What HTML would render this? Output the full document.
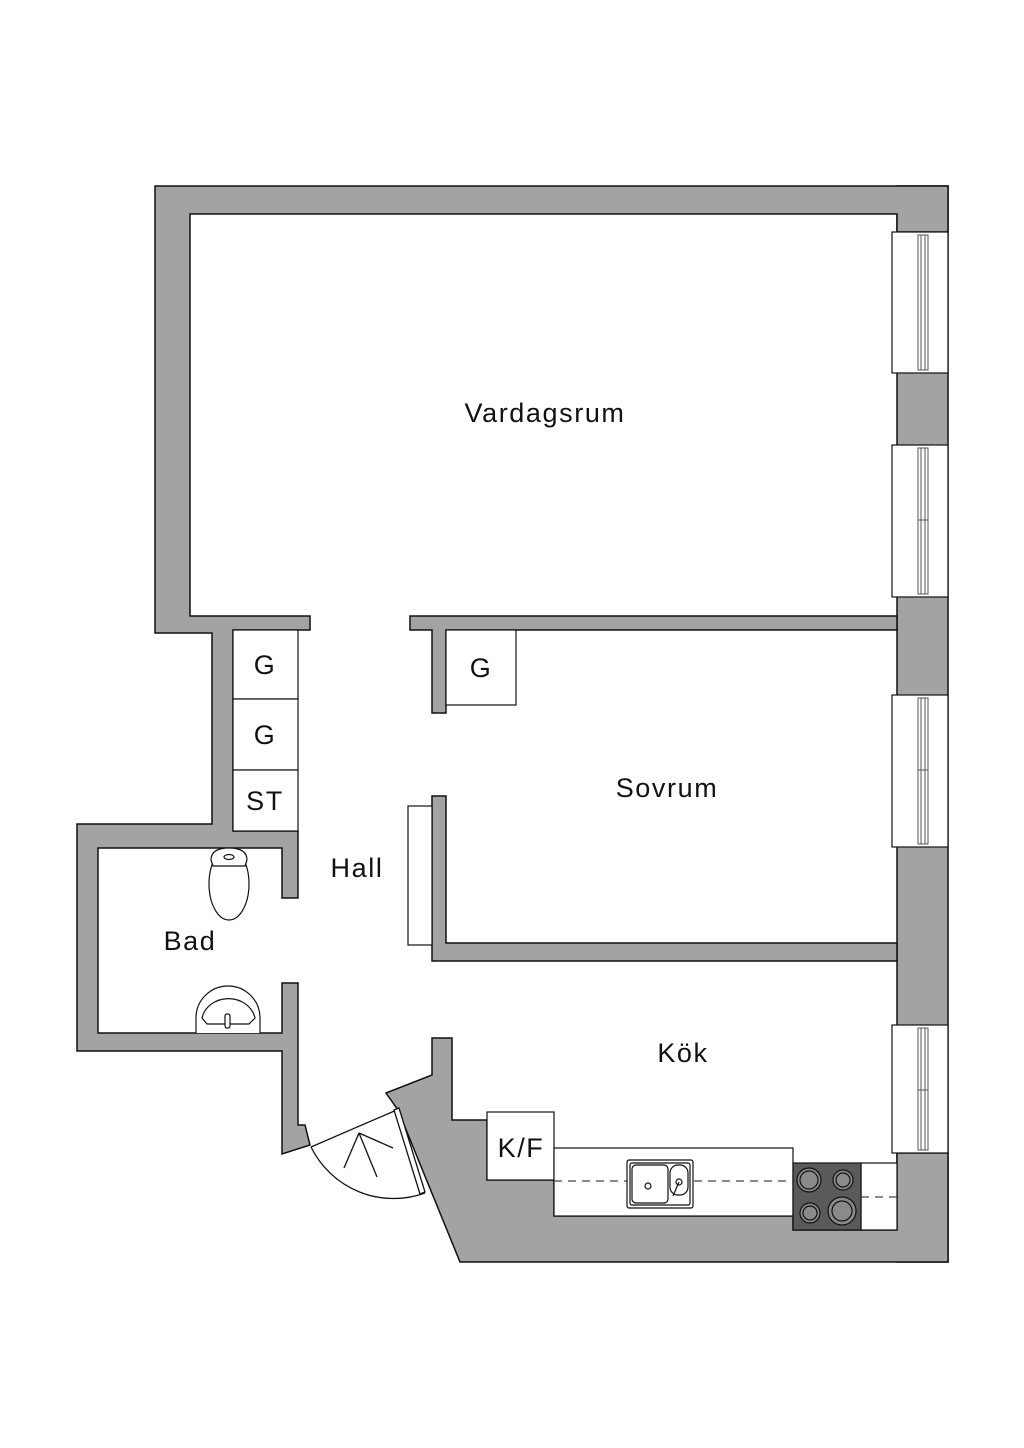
<!DOCTYPE html>
<html><head><meta charset="utf-8"><style>
html,body{margin:0;padding:0;background:#fff;}
svg{display:block;}
text{font-family:"Liberation Sans",sans-serif;fill:#111;}
</style></head><body>
<svg width="1024" height="1448" viewBox="0 0 1024 1448" xmlns="http://www.w3.org/2000/svg">
<g fill="#a3a3a3" stroke="#111" stroke-width="1.5" stroke-linejoin="miter">
<rect x="897" y="186" width="51" height="1076"/>
<path d="M155,186 L948,186 L948,232 L897,232 L897,214 L190,214 L190,616 L310,616 L310,630 L233,630 L233,831 L298,831 L298,898 L282,898 L282,848 L98,848 L98,1033 L282,1033 L282,983 L298,983 L298,1125 L305,1125 L310,1145 L282,1154 L282,1051 L77,1051 L77,824 L212,824 L212,633 L155,633 Z"/>
<path d="M410,616 L897,616 L897,630 L446,630 L446,713 L432,713 L432,630 L410,630 Z"/>
<path d="M432,796 L446,796 L446,943 L897,943 L897,961 L432,961 Z"/>
<path d="M432,1038 L452,1038 L452,1120 L487,1120 L487,1180 L554,1180 L554,1216 L793,1216 L793,1230 L897,1230 L897,1153 L948,1153 L948,1262 L460,1262 L398,1110 L386,1093 L432,1075 Z"/>
</g>
<g fill="#a3a3a3" stroke="none">
<rect x="898" y="187" width="49" height="26"/>
<rect x="898" y="1154" width="49" height="107"/>
</g>
<g stroke="#111" stroke-width="1.2" fill="#fff">
<rect x="892" y="232" width="56" height="141"/>
<rect x="892" y="445" width="56" height="152"/>
<rect x="892" y="695" width="56" height="152"/>
<rect x="892" y="1025" width="56" height="128"/>
</g>
<g stroke="#555" stroke-width="1" fill="none">
<rect x="918" y="235" width="10" height="135"/><line x1="921" y1="235" x2="921" y2="370"/><line x1="925" y1="235" x2="925" y2="370"/>
<rect x="918" y="448" width="10" height="146"/><line x1="921" y1="448" x2="921" y2="594"/><line x1="925" y1="448" x2="925" y2="594"/><line x1="918" y1="520" x2="928" y2="520"/>
<rect x="918" y="698" width="10" height="146"/><line x1="921" y1="698" x2="921" y2="844"/><line x1="925" y1="698" x2="925" y2="844"/><line x1="918" y1="770" x2="928" y2="770"/>
<rect x="918" y="1028" width="10" height="122"/><line x1="921" y1="1028" x2="921" y2="1150"/><line x1="925" y1="1028" x2="925" y2="1150"/><line x1="918" y1="1090" x2="928" y2="1090"/>
</g>
<g stroke="#111" stroke-width="1.2" fill="#fff">
<rect x="233" y="630" width="65" height="69"/>
<rect x="233" y="699" width="65" height="71"/>
<rect x="233" y="770" width="65" height="61"/>
<rect x="446" y="630" width="70" height="75"/>
<rect x="408" y="806" width="24" height="139"/>
</g>
<g stroke="#111" stroke-width="1.2" fill="#fff">
<ellipse cx="229" cy="884" rx="20" ry="36"/>
<path d="M211,860 Q211,848 229,848 Q247,848 247,860 L245,866 L213,866 Z"/>
<ellipse cx="229" cy="857" rx="5" ry="2.5"/>
</g>
<g stroke="#111" stroke-width="1.2" fill="#fff">
<path d="M196,1033 L196,1018 A32,32 0 0 1 260,1018 L260,1033"/>
<path d="M202,1018 A27,24 0 0 1 255,1018 L249,1024 L207,1024 Z" fill="none"/>
<rect x="225" y="1014" width="5" height="14" rx="2"/>
</g>
<g stroke="#111" stroke-width="1.3" fill="none">
<line x1="399" y1="1109" x2="311" y2="1147"/>
<path d="M311,1147 A92,92 0 0 0 425,1193"/>
<polygon points="394,1110 399,1108 425,1192 420,1194" fill="#fff"/>
<line x1="359" y1="1133" x2="377" y2="1177"/>
<line x1="359" y1="1133" x2="344" y2="1168"/>
<line x1="359" y1="1133" x2="393" y2="1148"/>
</g>
<g stroke="#111" stroke-width="1.2" fill="#fff">
<rect x="487" y="1112" width="67" height="68"/>
<rect x="554" y="1148" width="239" height="68"/>
<rect x="861" y="1163" width="36" height="67"/>
<rect x="793" y="1163" width="68" height="67" fill="#5a5a5a"/>
</g>
<g stroke="#444" stroke-width="1.2" stroke-dasharray="8,6" fill="none">
<line x1="554" y1="1181" x2="793" y2="1181"/>
<line x1="861" y1="1197" x2="897" y2="1197"/>
</g>
<g stroke="#111" stroke-width="1.2" fill="#fff">
<rect x="627" y="1160" width="66" height="48" rx="2"/>
<rect x="630" y="1163" width="60" height="42" rx="2" fill="none"/>
<rect x="632" y="1165" width="36" height="38" rx="4"/>
<rect x="670" y="1165" width="18" height="30" rx="8"/>
<circle cx="648" cy="1186" r="3"/>
<circle cx="679" cy="1182" r="3"/>
<line x1="679" y1="1182" x2="673" y2="1196"/>
</g>
<g stroke="#111" stroke-width="1.2" fill="#8a8a8a">
<circle cx="809" cy="1180" r="12"/><circle cx="809" cy="1180" r="9"/>
<circle cx="843" cy="1180" r="10"/><circle cx="843" cy="1180" r="7"/>
<circle cx="810" cy="1213" r="10"/><circle cx="810" cy="1213" r="7"/>
<circle cx="842" cy="1211" r="14"/><circle cx="842" cy="1211" r="10"/>
</g>
<g font-size="27" text-anchor="middle" letter-spacing="1.6">
<text x="545" y="422">Vardagsrum</text>
<text x="667" y="797">Sovrum</text>
<text x="357" y="877">Hall</text>
<text x="190" y="950">Bad</text>
<text x="683" y="1062">Kök</text>
<text x="521" y="1157">K/F</text>
<text x="265" y="674">G</text>
<text x="265" y="744">G</text>
<text x="481" y="677">G</text>
<text x="265" y="810">ST</text>
</g>
</svg>
</body></html>
